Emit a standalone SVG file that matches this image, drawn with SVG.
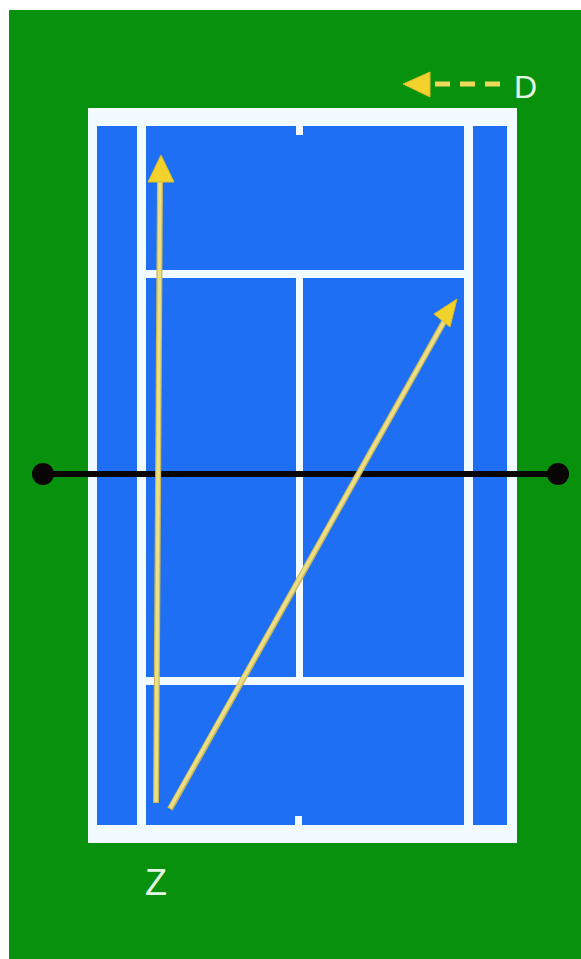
<svg xmlns="http://www.w3.org/2000/svg" width="581" height="959" viewBox="0 0 581 959">
<style>
.line{fill:#f2fbff}
.court{fill:#1f6ff4}
.shaft{stroke:#c8b85a;stroke-width:6;fill:none;stroke-linecap:butt}
.shaftin{stroke:#ecdf86;stroke-width:3.5;fill:none}
.head{fill:#f3d22c;stroke:#d9bb2a;stroke-width:1}
.lbl{font-family:"Liberation Sans","DejaVu Sans",sans-serif;fill:#e4f7e4}
</style>
<rect x="0" y="0" width="581" height="959" fill="#ffffff"/>
<rect x="9" y="10" width="572" height="949" fill="#08910c"/>
<g id="court">
<rect class="line" x="88" y="108" width="429" height="735"/>
<rect class="court" x="97" y="126" width="410" height="699"/>
<rect class="line" x="137" y="126" width="9" height="699"/>
<rect class="line" x="464" y="126" width="9" height="699"/>
<rect class="line" x="146" y="270" width="318" height="8"/>
<rect class="line" x="146" y="677" width="318" height="8"/>
<rect class="line" x="296" y="278" width="7" height="399"/>
<rect class="line" x="296" y="126" width="7" height="9"/>
<rect class="line" x="295" y="816" width="7" height="9"/>
</g>
<g id="net">
<line x1="43" y1="474" x2="558" y2="474" stroke="#0a0505" stroke-width="6"/>
<circle cx="43" cy="474" r="11" fill="#0a0505"/>
<circle cx="558" cy="474" r="11" fill="#0a0505"/>
</g>
<g id="connectors">
<g id="arrow-straight">
<line class="shaft" x1="156" y1="803" x2="160" y2="180"/>
<line class="shaftin" x1="156" y1="802" x2="160" y2="180"/>
<polygon class="head" points="161,155 174,182 148,182"/>
</g>
<g id="arrow-cross">
<line class="shaft" x1="170" y1="809" x2="445" y2="320"/>
<line class="shaftin" x1="170" y1="808" x2="445" y2="320"/>
<polygon class="head" points="457,299 450,327 434,314"/>
</g>
</g>
<g id="legend-D">
<polygon class="head" points="403,84 430,72 430,97"/>
<line x1="435" y1="84" x2="503" y2="84" stroke="#ecd95a" stroke-width="5" stroke-dasharray="15,10"/>
<text class="lbl" x="514" y="98" font-size="32">D</text>
</g>
<g id="label-Z">
<text class="lbl" x="145" y="895" font-size="36">Z</text>
</g>
</svg>
